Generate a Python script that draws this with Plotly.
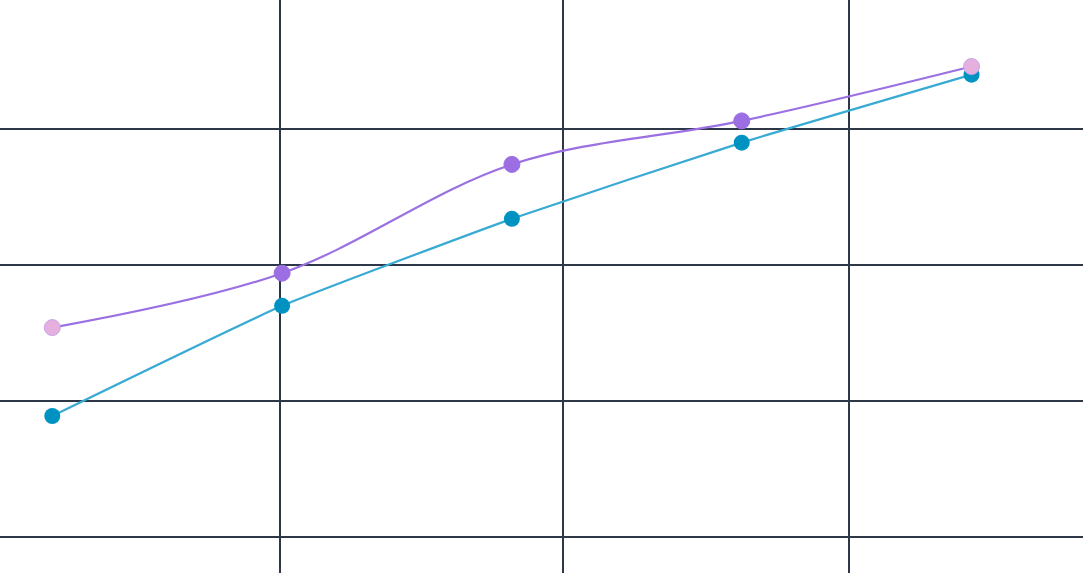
import plotly.graph_objects as go

x_vals = [0, 1, 2, 3, 4]
purple_vals = [15.4, 19.4, 27.4, 30.6, 34.6]
blue_vals = [8.9, 17.0, 23.4, 29.0, 34.0]
purple_marker_colors = ["#e6b0de", "#9b6fe3", "#9b6fe3", "#9b6fe3", "#e6b0de"]
purple_marker_lines = ["#c7a3ea", "#9b6fe3", "#9b6fe3", "#9b6fe3", "#c7a3ea"]
x_grid = [0.9907, 2.222, 3.466]
y_grid = [0, 10, 20, 30]

fig = go.Figure()
fig.add_trace(go.Scatter(
    x=x_vals, y=blue_vals, mode="lines+markers",
    line=dict(color="#38aad3", width=2.2, shape="spline", smoothing=0.4),
    marker=dict(color="#0093c2", size=16, line=dict(width=0)),
    showlegend=False, hoverinfo="skip",
))
fig.add_trace(go.Scatter(
    x=x_vals, y=purple_vals, mode="lines+markers",
    line=dict(color="#9b70e2", width=2.2, shape="spline", smoothing=1),
    marker=dict(color=purple_marker_colors, size=16,
                line=dict(width=1, color=purple_marker_lines)),
    showlegend=False, hoverinfo="skip",
))

fig.update_layout(
    width=1083, height=573,
    margin=dict(l=0, r=0, t=0, b=0),
    paper_bgcolor="white", plot_bgcolor="white",
    xaxis=dict(range=[-0.2275, 4.485], tickvals=x_grid, showticklabels=False,
               showgrid=True, gridcolor="#2d3748", gridwidth=1.5,
               zeroline=False, showline=False, fixedrange=True),
    yaxis=dict(range=[-2.647, 39.49], tickvals=y_grid, showticklabels=False,
               showgrid=True, gridcolor="#2d3748", gridwidth=1.5,
               zeroline=False, showline=False, fixedrange=True),
)

fig.write_html("out.html", config={"displayModeBar": False})

with open("out.html", "r", encoding="utf-8") as f:
    html = f.read()
html = html.replace("<head>", "<head><style>html,body{margin:0;padding:0;overflow:hidden;}</style>", 1)
with open("out.html", "w", encoding="utf-8") as f:
    f.write(html)
